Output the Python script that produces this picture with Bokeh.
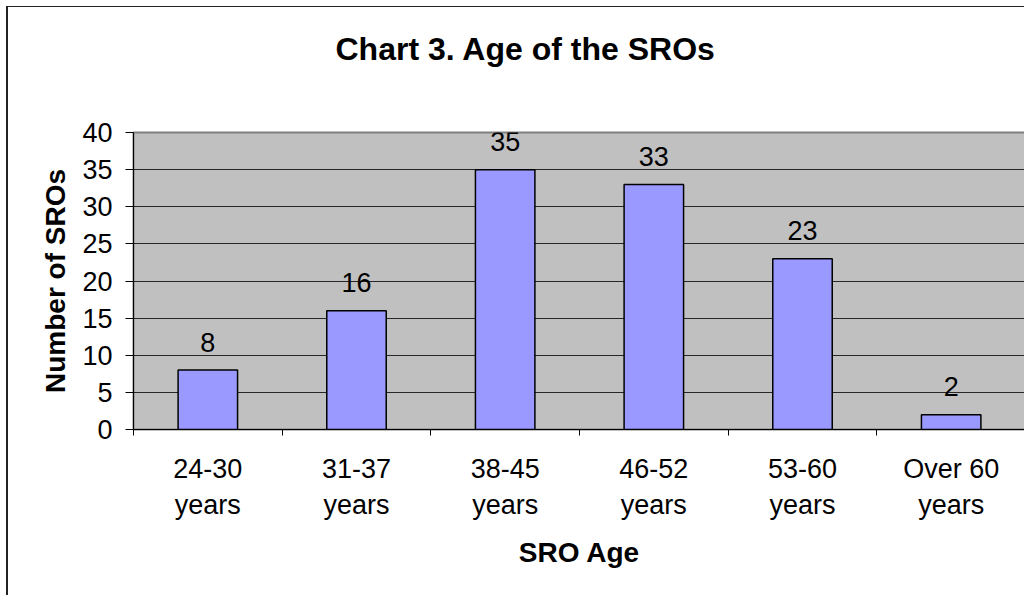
from bokeh.plotting import figure
from bokeh.models import FixedTicker, CustomJSTickFormatter, Title, ColumnDataSource, Range1d, LabelSet
from bokeh.core.properties import value
from bokeh.embed import file_html
from bokeh.resources import INLINE

categories = ["24-30\nyears", "31-37\nyears", "38-45\nyears", "46-52\nyears", "53-60\nyears", "Over 60\nyears"]
counts = [8, 16, 35, 33, 23, 2]
y_ticks = [0, 5, 10, 15, 20, 25, 30, 35, 40]
title_text = "Chart 3. Age of the SROs"
x_title = "SRO Age"
y_title = "Number of SROs"

FONT = "Liberation Sans"
n = len(categories)
xs = [i + 0.5 for i in range(n)]
src = ColumnDataSource(dict(x=xs, top=counts, lbl=[str(c) for c in counts]))

p = figure(width=1018, height=589, output_backend="svg", toolbar_location=None,
           x_range=Range1d(0, n), y_range=Range1d(0, 40),
           min_border_left=125, min_border_top=125, min_border_right=1, min_border_bottom=167)
p.styles = {"border-left": "2px solid #222", "border-top": "1px solid #222",
            "margin-left": "6px", "margin-top": "6px"}
p.background_fill_color = "#C0C0C0"
p.border_fill_color = "white"
p.outline_line_color = "#808080"
p.outline_line_width = 2

p.vbar(x="x", top="top", width=0.4, source=src, fill_color="#9999FF",
       line_color="black", line_width=1.5)
p.add_layout(LabelSet(x="x", y="top", text="lbl", source=src, text_align="center",
                      text_baseline="middle", y_offset=28, text_font=value(FONT),
                      text_font_size="27px", text_color="black"))

# y axis
yax = p.yaxis[0]
yax.ticker = FixedTicker(ticks=y_ticks)
yax.major_tick_in = 0
yax.major_tick_out = 8
yax.minor_tick_line_color = None
yax.axis_line_color = "black"
yax.major_label_text_font = FONT
yax.major_label_text_font_size = "27px"
yax.major_label_text_color = "black"
yax.major_label_standoff = 13
yax.axis_label = y_title
yax.axis_label_text_font = FONT
yax.axis_label_text_font_size = "28px"
yax.axis_label_text_font_style = "bold"
yax.axis_label_text_color = "black"
yax.axis_label_standoff = 8

# x axis
xax = p.xaxis[0]
xax.ticker = FixedTicker(ticks=xs, minor_ticks=list(range(n + 1)))
xax.formatter = CustomJSTickFormatter(args=dict(labels=categories),
                                      code="return labels[Math.floor(tick)];")
xax.major_tick_line_color = None
xax.minor_tick_in = 0
xax.minor_tick_out = 6
xax.minor_tick_line_color = "black"
xax.axis_line_color = "black"
xax.major_label_text_font = FONT
xax.major_label_text_font_size = "27px"
xax.major_label_text_color = "black"
xax.major_label_text_line_height = 1.22
xax.major_label_standoff = 18
xax.axis_label = x_title
xax.axis_label_text_font = FONT
xax.axis_label_text_font_size = "28px"
xax.axis_label_text_font_style = "bold"
xax.axis_label_text_color = "black"
xax.axis_label_standoff = 14

p.xgrid.grid_line_color = None
p.ygrid.grid_line_color = "black"
p.ygrid.grid_line_alpha = 0.8
p.ygrid.ticker = FixedTicker(ticks=y_ticks)

# spacer (empty title) between the frame and the chart title
p.add_layout(Title(text=" ", standoff=48, text_font=FONT, text_font_size="10px",
                   text_color="white"), "above")
p.add_layout(Title(text=title_text, align="left", offset=202, standoff=10, text_font=FONT,
                   text_font_size="32px", text_font_style="bold", text_color="black"), "above")

open("out.html", "w").write(file_html(p, INLINE))
